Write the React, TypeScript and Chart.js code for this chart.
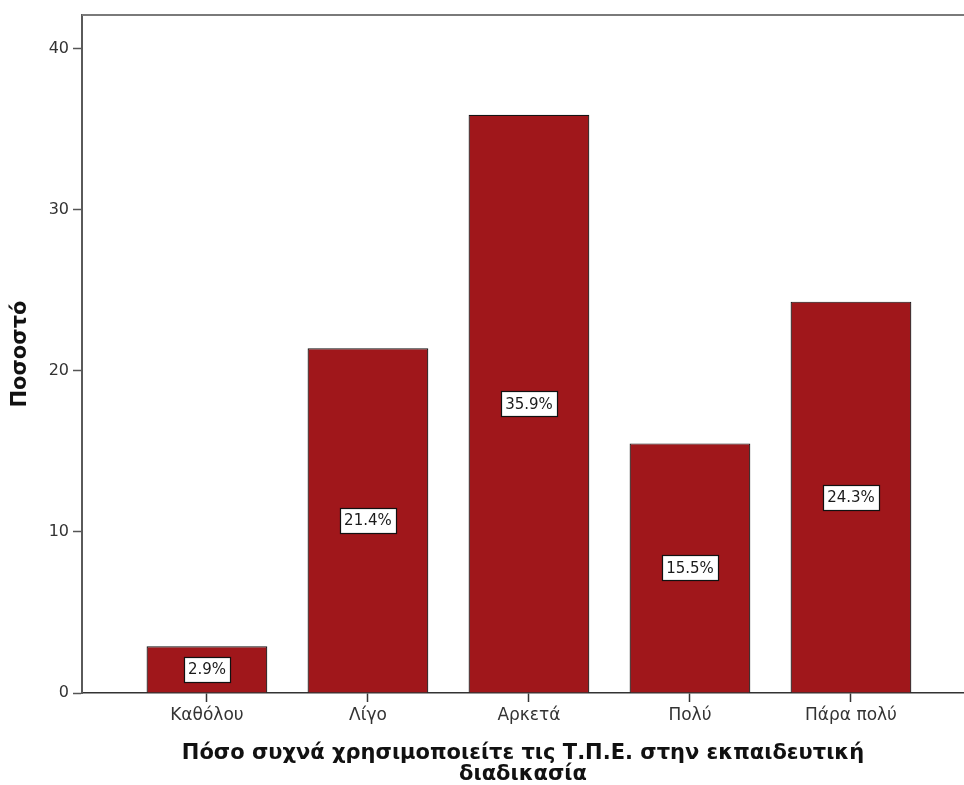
import React, { useEffect, useRef } from 'react';
import { Chart, registerables } from 'chart.js';

Chart.register(...registerables);

const categories = ['Καθόλου', 'Λίγο', 'Αρκετά', 'Πολύ', 'Πάρα πολύ'];
const percentages = [2.9, 21.4, 35.9, 15.5, 24.3];
const yTickValues = [0, 10, 20, 30, 40];
const yMin = 0;
const yMax = 42.1;
const xMin = -0.776;
const xMax = 4.702;
const xTitleLines = ['Πόσο συχνά χρησιμοποιείτε τις Τ.Π.Ε. στην εκπαιδευτική', 'διαδικασία'];
const yTitleText = 'Ποσοστό';

const BAR_COLOR = '#a0171b';
const FONT = '"DejaVu Sans", sans-serif';

const frameAndLabels = {
  id: 'frameAndLabels',
  afterDatasetsDraw(chart: any) {
    const ctx = chart.ctx;
    const area = chart.chartArea;
    ctx.save();
    // top frame line
    ctx.strokeStyle = '#7a7a7a';
    ctx.lineWidth = 2;
    ctx.beginPath();
    ctx.moveTo(area.left, area.top);
    ctx.lineTo(area.right, area.top);
    ctx.stroke();

    // value labels
    const meta = chart.getDatasetMeta(0);
    ctx.font = `15px ${FONT}`;
    ctx.textAlign = 'center';
    ctx.textBaseline = 'middle';
    meta.data.forEach((bar: any, i: number) => {
      const { x, y, base } = bar.getProps(['x', 'y', 'base'], true);
      const cy = (y + base) / 2;
      const text = percentages[i].toFixed(1) + '%';
      const w = Math.round(ctx.measureText(text).width + 8);
      const h = 25;
      const bx = Math.round(x - w / 2) + 0.5;
      const by = Math.round(cy - h / 2) + 0.5;
      ctx.fillStyle = '#ffffff';
      ctx.fillRect(bx, by, w, h);
      ctx.strokeStyle = '#111111';
      ctx.lineWidth = 1.2;
      ctx.strokeRect(bx, by, w, h);
      ctx.fillStyle = '#1a1a1a';
      ctx.fillText(text, x, cy + 1);
    });
    ctx.restore();
  },
};

export default function App() {
  const canvasRef = useRef<HTMLCanvasElement | null>(null);

  useEffect(() => {
    if (!canvasRef.current) return;
    const chart = new Chart(canvasRef.current, {
      type: 'bar',
      data: {
        datasets: [
          {
            data: percentages.map((v, i) => ({ x: i, y: v })),
            backgroundColor: BAR_COLOR,
            borderColor: '#141414',
            borderWidth: 1.2,
            barPercentage: 0.75,
            categoryPercentage: 1,
          },
        ],
      },
      options: {
        responsive: false,
        animation: false,
        layout: { padding: { top: 15, left: 0, right: 0, bottom: 0 } },
        plugins: {
          legend: { display: false },
          tooltip: { enabled: false },
        },
        scales: {
          x: {
            type: 'linear',
            min: xMin,
            max: xMax,
            offset: false,
            afterBuildTicks: (axis: any) => {
              axis.ticks = categories.map((_, i) => ({ value: i }));
            },
            afterFit: (scale: any) => {
              scale.height = 92;
            },
            ticks: {
              autoSkip: false,
              maxRotation: 0,
              padding: 3,
              color: '#333333',
              font: { family: FONT, size: 17 },
              callback: (v: any) => categories[v] ?? '',
            },
            grid: {
              display: true,
              offset: false,
              drawOnChartArea: false,
              drawTicks: true,
              tickLength: 9,
              tickColor: '#333333',
              tickWidth: 1.5,
            },
            border: { display: true, color: '#333333', width: 1.5 },
            title: {
              display: true,
              text: xTitleLines,
              color: '#111111',
              font: { family: FONT, size: 21, weight: 'bold', lineHeight: 1.0 },
              padding: { top: 0, bottom: 0 },
            },
          },
          y: {
            type: 'linear',
            min: yMin,
            max: yMax,
            afterBuildTicks: (axis: any) => {
              axis.ticks = yTickValues.map((v) => ({ value: v }));
            },
            afterFit: (scale: any) => {
              scale.width = 82;
            },
            ticks: {
              padding: 4,
              color: '#333333',
              font: { family: FONT, size: 16 },
            },
            grid: {
              display: true,
              drawOnChartArea: false,
              drawTicks: true,
              tickLength: 9,
              tickColor: '#555555',
              tickWidth: 1.5,
            },
            border: { display: true, color: '#5a5a5a', width: 2 },
            title: {
              display: true,
              text: yTitleText,
              color: '#111111',
              font: { family: FONT, size: 21, weight: 'bold' },
              padding: { top: 8, bottom: 0 },
            },
          },
        },
      },
      plugins: [frameAndLabels],
    });
    return () => chart.destroy();
  }, []);

  return (
    <div style={{ position: 'absolute', left: 0, top: 0, width: 964, height: 785, background: '#fff' }}>
      <canvas ref={canvasRef} width={964} height={785} style={{ display: 'block' }} />
    </div>
  );
}
